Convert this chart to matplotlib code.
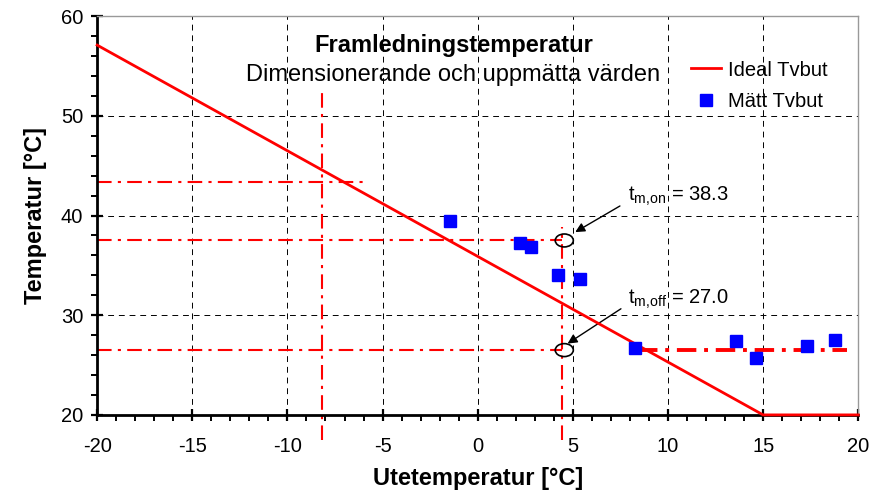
import matplotlib
matplotlib.use("Agg")
import matplotlib.pyplot as plt
from matplotlib.patches import Ellipse
from matplotlib.ticker import MultipleLocator

plt.rcParams["font.family"] = ["Liberation Sans", "DejaVu Sans"]
plt.rcParams["mathtext.fontset"] = "custom"
plt.rcParams["mathtext.rm"] = "Liberation Sans"
plt.rcParams["mathtext.it"] = "Liberation Sans"
plt.rcParams["axes.unicode_minus"] = False

# ideal supply temperature curve
ideal_x = [-20, 15, 20]
ideal_y = [57.1, 20, 20]

# measured points
meas_x = [-1.45, 2.2, 2.8, 4.2, 5.35, 8.25, 13.55, 14.6, 17.3, 18.8]
meas_y = [39.5, 37.2, 36.8, 34.0, 33.6, 26.7, 27.4, 25.7, 26.9, 27.5]

# helper lines
x_dim, t_dim = -8.2, 43.4
x_on, t_on, t_off = 4.45, 37.5, 26.5
x_off_start, x_off_end = 8.4, 19.4
on_label = "38.3"
off_label = "27.0"

fig = plt.figure(figsize=(8.83, 4.91), dpi=100)
ax = fig.add_axes([0.110, 0.155, 0.862, 0.812])

ax.set_xlim(-20, 20)
ax.set_ylim(20, 60)
ax.xaxis.set_major_locator(MultipleLocator(5))
ax.xaxis.set_minor_locator(MultipleLocator(1))
ax.yaxis.set_major_locator(MultipleLocator(10))
ax.yaxis.set_minor_locator(MultipleLocator(2))
ax.grid(True, which="major", color="black", linestyle=(0, (6, 5)), linewidth=0.7)
ax.set_axisbelow(True)

for s in ["left", "bottom"]:
    ax.spines[s].set_linewidth(2.0)
    ax.spines[s].set_color("black")
for s in ["top", "right"]:
    ax.spines[s].set_linewidth(1.0)
    ax.spines[s].set_color("#999999")
ax.tick_params(which="major", direction="inout", length=8, width=1.6, labelsize=14.5)
ax.tick_params(axis="x", which="major", pad=12)
ax.tick_params(axis="y", which="major", pad=6)
ax.tick_params(which="minor", direction="out", length=4, width=1.4)
ax.tick_params(top=False, right=False, which="both")

dashdot = (0, (7, 3, 1.5, 3))
ax.plot([x_dim, x_dim], [17.5, 52.4], color="red", lw=1.5, ls=dashdot, clip_on=False)
ax.plot([-20, -6.0], [t_dim, t_dim], color="red", lw=1.5, ls=dashdot, clip_on=False)
ax.plot([x_on, x_on], [17.5, 38.9], color="red", lw=1.5, ls=dashdot, clip_on=False)
ax.plot([-20, x_on], [t_on, t_on], color="red", lw=1.5, ls=dashdot)
ax.plot([-20, x_on], [t_off, t_off], color="red", lw=1.5, ls=dashdot)
ax.plot([x_off_start, x_off_end], [t_off, t_off], color="red", lw=2.8, ls=(0, (5, 2, 1, 2)))

ax.plot(ideal_x, ideal_y, color="red", lw=2.0, label="Ideal Tvbut", clip_on=False, zorder=4)
ax.plot(meas_x, meas_y, ls="none", marker="s", ms=8, color="blue", label="Mätt Tvbut", zorder=5)

for ty in [t_on, t_off]:
    ax.add_patch(Ellipse((x_on + 0.1, ty), 0.95, 1.3, fill=False, ec="black", lw=1.2, zorder=6))

arrow = dict(arrowstyle="-|>", color="black", lw=1.0, mutation_scale=14)
ax.annotate("", xy=(5.0, 38.2), xytext=(7.6, 41.1), arrowprops=arrow)
ax.annotate("", xy=(4.6, 27.0), xytext=(7.65, 30.8), arrowprops=arrow)
ax.text(7.9, 41.9, r"$\mathregular{t_{m{,}on}}$ = " + on_label, fontsize=14.5, va="center")
ax.text(7.9, 31.6, r"$\mathregular{t_{m{,}off}}$ = " + off_label, fontsize=14.5, va="center")

ax.text(0.468, 0.927, "Framledningstemperatur", transform=ax.transAxes,
        ha="center", va="center", fontsize=17, fontweight="bold")
ax.text(0.468, 0.852, "Dimensionerande och uppmätta värden", transform=ax.transAxes,
        ha="center", va="center", fontsize=17)

ax.legend(loc="center left", bbox_to_anchor=(0.77, 0.826), frameon=False, fontsize=14.5,
          handlelength=1.5, handletextpad=0.3, labelspacing=0.6, borderaxespad=0)

ax.set_xlabel("Utetemperatur [°C]", fontsize=17, fontweight="bold", labelpad=8)
ax.set_ylabel("Temperatur [°C]", fontsize=17, fontweight="bold", labelpad=10)

fig.savefig("out.png", dpi=100)
